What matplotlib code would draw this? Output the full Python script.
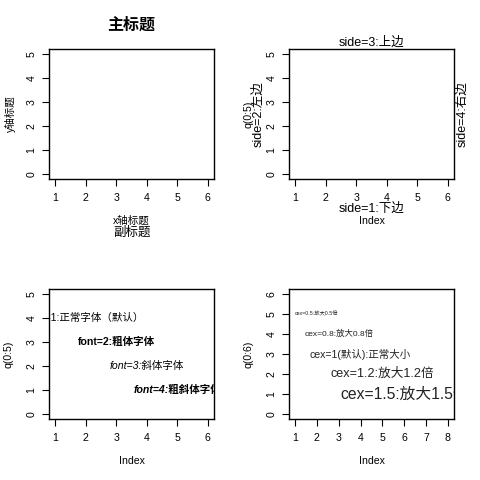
import matplotlib
matplotlib.use("Agg")
import matplotlib.pyplot as plt
from matplotlib.transforms import offset_copy

plt.rcParams['font.family'] = ['Liberation Sans', 'Noto Sans CJK SC']

# plot(0:5) with type="n"; last panel has index 1..8 and values 0..6
x_6 = [1, 2, 3, 4, 5, 6]
y_05 = [0, 1, 2, 3, 4, 5]
x_8 = [1, 2, 3, 4, 5, 6, 7, 8]
y_06 = [0, 1, 2, 3, 4, 5, 6]

side_labels = ["side=1:下边", "side=2:左边", "side=3:上边", "side=4:右边"]

font_labels = ["font=1:正常字体（默认）", "font=2:粗体字体", "font=3:斜体字体", "font=4:粗斜体字体"]
font_x = [2, 3, 4, 5]
font_y = [4, 3, 2, 1]
font_weight = ["normal", "bold", "normal", "bold"]
font_style = ["normal", "normal", "italic", "italic"]

cex_labels = ["cex=0.5:放大0.5倍", "cex=0.8:放大0.8倍", "cex=1(默认):正常大小",
              "cex=1.2:放大1.2倍", "cex=1.5:放大1.5倍"]
cex_x = [2, 3, 4, 5, 6]
cex_y = [5, 4, 3, 2, 1]
cex_values = [0.5, 0.8, 1.0, 1.2, 1.5]

W = H = 480
PX = 0.72  # points per pixel at dpi 100
BASE = 10.5 * PX

fig = plt.figure(figsize=(4.8, 4.8), dpi=100)


def px_rect(left, top, right, bottom):
    return [left / W, 1 - bottom / H, (right - left) / W, (bottom - top) / H]


def r_axes(rect, x, y):
    ax = fig.add_axes(rect)
    xspan = max(x) - min(x)
    yspan = max(y) - min(y)
    ax.set_xlim(min(x) - 0.04 * xspan, max(x) + 0.04 * xspan)
    ax.set_ylim(min(y) - 0.04 * yspan, max(y) + 0.04 * yspan)
    ax.set_xticks(x)
    ax.set_yticks(y)
    ax.tick_params(direction="out", length=5, width=0.8, labelsize=BASE, pad=5, colors="black")
    ax.tick_params(axis="y", labelrotation=90, pad=4)
    for lab in ax.get_yticklabels():
        lab.set_va("center")
    for s in ax.spines.values():
        s.set_linewidth(1.0)
    return ax


def mtext(ax, side, dist, s, size, **kw):
    if side == 1:
        tr = offset_copy(ax.transAxes, fig=fig, y=-dist, units="dots")
        ax.text(0.5, 0, s, transform=tr, ha="center", va="center", fontsize=size, clip_on=False, **kw)
    elif side == 3:
        tr = offset_copy(ax.transAxes, fig=fig, y=dist, units="dots")
        ax.text(0.5, 1, s, transform=tr, ha="center", va="center", fontsize=size, clip_on=False, **kw)
    elif side == 2:
        tr = offset_copy(ax.transAxes, fig=fig, x=-dist, units="dots")
        ax.text(0, 0.5, s, transform=tr, ha="center", va="center", rotation=90, fontsize=size, clip_on=False, **kw)
    else:
        tr = offset_copy(ax.transAxes, fig=fig, x=dist, units="dots")
        ax.text(1, 0.5, s, transform=tr, ha="center", va="center", rotation=90, fontsize=size, clip_on=False, **kw)


# panel 1: titles
ax1 = r_axes(px_rect(49, 49, 214, 179), x_6, y_05)
mtext(ax1, 3, 24, "主标题", 16 * PX, fontweight="bold")
mtext(ax1, 1, 42, "x轴标题", BASE)
mtext(ax1, 1, 54, "副标题", 12.5 * PX)
mtext(ax1, 2, 39, "y轴标题", BASE)

# panel 2: mtext sides
ax2 = r_axes(px_rect(289, 49, 454, 179), x_6, y_05)
mtext(ax2, 1, 42, "Index", BASE)
mtext(ax2, 2, 41, "q(0:5)", BASE)
mtext(ax2, 1, 30, side_labels[0], 12.5 * PX)
mtext(ax2, 2, 31, side_labels[1], 12.5 * PX)
mtext(ax2, 3, 6, side_labels[2], 12.5 * PX)
mtext(ax2, 4, 8, side_labels[3], 12.5 * PX)

# panel 3: font styles
ax3 = r_axes(px_rect(49, 289, 214, 419), x_6, y_05)
mtext(ax3, 1, 42, "Index", BASE)
mtext(ax3, 2, 41, "q(0:5)", BASE)
for s, x, y, w, st in zip(font_labels, font_x, font_y, font_weight, font_style):
    ax3.text(x, y, s, ha="center", va="center", fontsize=BASE, fontweight=w, fontstyle=st, clip_on=True)

# panel 4: cex sizes
ax4 = r_axes(px_rect(289, 289, 454, 419), x_8, y_06)
mtext(ax4, 1, 42, "Index", BASE)
mtext(ax4, 2, 41, "q(0:6)", BASE)
for s, x, y, c in zip(cex_labels, cex_x, cex_y, cex_values):
    ax4.text(x, y, s, ha="center", va="center", fontsize=BASE * c, color="#222222", clip_on=True)

fig.savefig("out.png", dpi=100)
